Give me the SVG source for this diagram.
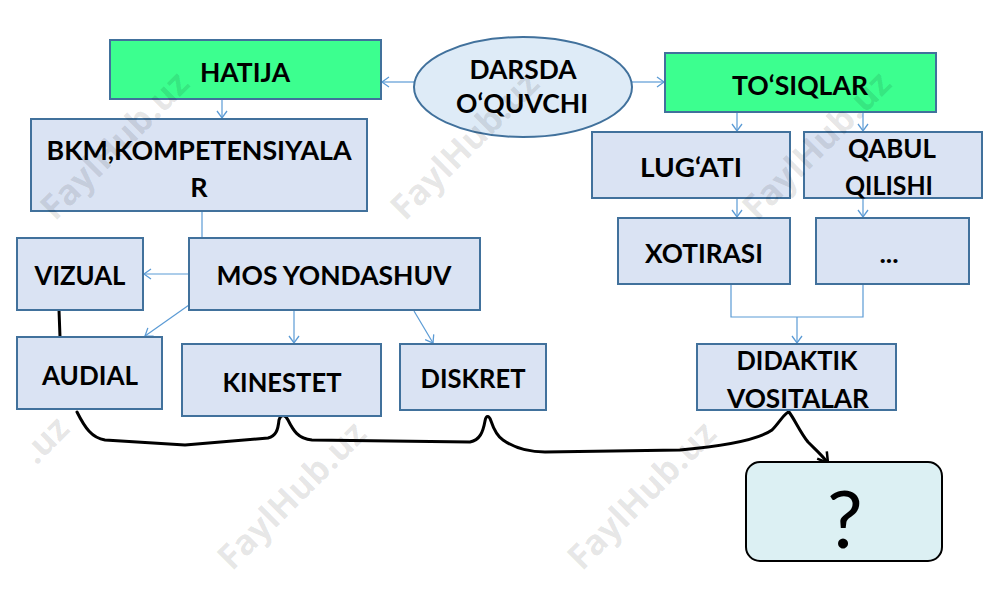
<svg xmlns="http://www.w3.org/2000/svg" width="1000" height="595" viewBox="0 0 1000 595">
<style>
.box{fill:#dae3f3;stroke:#41719c;stroke-width:2}
.green{fill:#3cff8f;stroke:#41719c;stroke-width:2}
.lbl{font-family:Lato,"Liberation Sans",sans-serif;font-weight:bold;font-size:27px;fill:#000;text-anchor:middle}
.con{fill:none;stroke:#5b9bd5;stroke-width:1.2}
.hand{fill:none;stroke:#000;stroke-width:3;stroke-linecap:round;stroke-linejoin:round}
.wm{font-family:"Open Sans","Liberation Sans",sans-serif;font-weight:bold;font-size:35px;fill:#000;fill-opacity:0.1}
</style>
<defs>
<marker id="arr" markerUnits="userSpaceOnUse" markerWidth="12" markerHeight="12" refX="10" refY="6" orient="auto">
<path d="M3,1 L10,6 L3,11" fill="none" stroke="#5b9bd5" stroke-width="1.3"/>
</marker>
<marker id="harr" markerUnits="userSpaceOnUse" markerWidth="16" markerHeight="16" refX="13" refY="8" orient="auto">
<path d="M3,2 L13,8 L3,14" fill="none" stroke="#000" stroke-width="2.5"/>
</marker>
</defs>
<rect width="1000" height="595" fill="#fff"/>
<g id="connectors">
<line class="con" x1="414" y1="82" x2="382" y2="82" marker-end="url(#arr)"/>
<line class="con" x1="632" y1="82" x2="664" y2="82" marker-end="url(#arr)"/>
<line class="con" x1="222" y1="99" x2="222" y2="118" marker-end="url(#arr)"/>
<line class="con" x1="202" y1="211" x2="202" y2="238"/>
<line class="con" x1="189" y1="274" x2="144" y2="274" marker-end="url(#arr)"/>
<line class="con" x1="189" y1="305" x2="145" y2="336" marker-end="url(#arr)"/>
<line class="con" x1="294" y1="311" x2="294" y2="343" marker-end="url(#arr)"/>
<line class="con" x1="414" y1="311" x2="433" y2="343" marker-end="url(#arr)"/>
<line class="con" x1="737" y1="112" x2="737" y2="131" marker-end="url(#arr)"/>
<line class="con" x1="863" y1="112" x2="863" y2="131" marker-end="url(#arr)"/>
<line class="con" x1="737" y1="198" x2="737" y2="217" marker-end="url(#arr)"/>
<line class="con" x1="863" y1="198" x2="863" y2="217" marker-end="url(#arr)"/>
<path class="con" d="M731,284 V317 H863 V284"/>
<line class="con" x1="797" y1="317" x2="797" y2="343" marker-end="url(#arr)"/>
<path class="hand" d="M59,310 L60,337"/>
<path class="hand" d="M77,412 C85,428 92,438 105,440 L185,445 L268,438 C276,436 278,430 279,420 C281,414 285,414 288,420 C293,430 298,439 312,440 L470,442 C480,440 483,432 485,421 C486,415 489,415 491,421 C494,430 497,436 503,440 C513,447 528,452 545,452 L680,450 C725,446 758,440 772,430 C780,422 785,412 789,412 C795,420 800,432 808,442 C816,450 822,455 828,463" marker-end="url(#harr)"/>
</g>
<g id="n-hatija"><rect class="green" x="110" y="40" width="271" height="59"/><text class="lbl" x="245" y="82" textLength="90" lengthAdjust="spacingAndGlyphs">HATIJA</text></g>
<g id="n-darsda"><ellipse cx="523" cy="87" rx="109" ry="50" fill="#deebf7" stroke="#41719c" stroke-width="2"/><text class="lbl" x="523" y="79" textLength="107" lengthAdjust="spacingAndGlyphs">DARSDA</text><text class="lbl" x="522" y="113" textLength="132" lengthAdjust="spacingAndGlyphs">O‘QUVCHI</text></g>
<g id="n-tosiqlar"><rect class="green" x="665" y="53" width="271" height="59"/><text class="lbl" x="800" y="95" textLength="136" lengthAdjust="spacingAndGlyphs">TO‘SIQLAR</text></g>
<g id="n-bkm"><rect class="box" x="31" y="119" width="336" height="92"/><text class="lbl" x="199" y="160" textLength="305" lengthAdjust="spacingAndGlyphs">BKM,KOMPETENSIYALA</text><text class="lbl" x="199" y="197">R</text></g>
<g id="n-lugati"><rect class="box" x="592" y="132" width="198" height="66"/><text class="lbl" x="691" y="177" textLength="102" lengthAdjust="spacingAndGlyphs">LUG‘ATI</text></g>
<g id="n-qabul"><rect class="box" x="804" y="132" width="178" height="66"/><text class="lbl" x="892" y="158" textLength="88" lengthAdjust="spacingAndGlyphs">QABUL</text><text class="lbl" x="889" y="195" textLength="88" lengthAdjust="spacingAndGlyphs">QILISHI</text></g>
<g id="n-xotirasi"><rect class="box" x="618" y="218" width="172" height="66"/><text class="lbl" x="704" y="263" textLength="118" lengthAdjust="spacingAndGlyphs">XOTIRASI</text></g>
<g id="n-dots"><rect class="box" x="816" y="218" width="153" height="66"/><text class="lbl" x="889" y="263">...</text></g>
<g id="n-vizual"><rect class="box" x="17" y="238" width="126" height="72"/><text class="lbl" x="80" y="285" textLength="91" lengthAdjust="spacingAndGlyphs">VIZUAL</text></g>
<g id="n-mos"><rect class="box" x="189" y="238" width="291" height="72"/><text class="lbl" x="334" y="285" textLength="235" lengthAdjust="spacingAndGlyphs">MOS YONDASHUV</text></g>
<g id="n-audial"><rect class="box" x="17" y="337" width="145" height="72"/><text class="lbl" x="90" y="385" textLength="96" lengthAdjust="spacingAndGlyphs">AUDIAL</text></g>
<g id="n-kinestet"><rect class="box" x="182" y="344" width="199" height="72"/><text class="lbl" x="282" y="392" textLength="119" lengthAdjust="spacingAndGlyphs">KINESTET</text></g>
<g id="n-diskret"><rect class="box" x="400" y="344" width="146" height="66"/><text class="lbl" x="473" y="388" textLength="105" lengthAdjust="spacingAndGlyphs">DISKRET</text></g>
<g id="n-didaktik"><rect class="box" x="697" y="344" width="199" height="66"/><text class="lbl" x="797" y="370" textLength="121" lengthAdjust="spacingAndGlyphs">DIDAKTIK</text><text class="lbl" x="798" y="408" textLength="142" lengthAdjust="spacingAndGlyphs">VOSITALAR</text></g>
<g id="n-question"><rect x="746" y="462" width="196" height="99" rx="14" fill="#dcf0f3" stroke="#000" stroke-width="2"/><text x="845" y="548" font-family="Lato,'Liberation Sans',sans-serif" font-size="80" text-anchor="middle" fill="#000">?</text></g>
<g id="watermarks">
<text class="wm" transform="translate(55,222) rotate(-45)">FaylHub.uz</text>
<text class="wm" transform="translate(405,222) rotate(-45)">FaylHub.uz</text>
<text class="wm" transform="translate(757,222) rotate(-45)">FaylHub.uz</text>
<text class="wm" transform="translate(36,466) rotate(-45)">.uz</text>
<text class="wm" transform="translate(232,572) rotate(-45)">FaylHub.uz</text>
<text class="wm" transform="translate(582,572) rotate(-45)">FaylHub.uz</text>
</g>
</svg>
